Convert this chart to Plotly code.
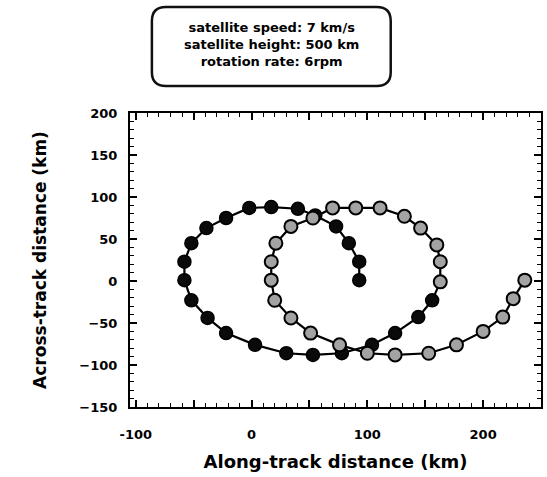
import plotly.graph_objects as go

# ---- data (km) ----
first_x = [93, 93, 84, 73, 55, 40, 17, -2, -22, -39, -52, -58, -58, -52, -38, -22, 3, 30, 53, 78, 104, 124, 144, 156]
first_y = [1, 23, 45, 65, 78, 86, 88, 87, 75, 63, 45, 23, 1, -23, -44, -62, -76, -86, -88, -86, -76, -62, -43, -23]

second_x = [163, 163, 160, 146, 132, 111, 90, 70, 53, 34, 21, 17, 17, 20, 34, 51, 76, 100, 124, 153, 177, 200, 217, 226, 236]
second_y = [-1, 23, 43, 63, 77, 87, 87, 87, 75, 65, 45, 23, 1, -23, -44, -62, -76, -86, -88, -86, -76, -60, -43, -21, 1]

info_lines = ["satellite speed: 7 km/s", "satellite height: 500 km", "rotation rate: 6rpm"]
x_title = "Along-track distance (km)"
y_title = "Across-track distance (km)"
x_tickvals = [-100, -50, 0, 50, 100, 150, 200, 250]
x_ticktext = ["-100", "", "0", "", "100", "", "200", ""]
y_tickvals = [-150, -100, -50, 0, 50, 100, 150, 200]

# ---- layout geometry ----
W, H = 547, 477
L, R, T, B = 130, 543, 113, 407
PW, PH = R - L, B - T

def px2paper(px, py):
    return (px - L) / PW, (B - py) / PH

FONT = "DejaVu Sans"

fig = go.Figure()

line_x = first_x + second_x
line_y = first_y + second_y
fig.add_trace(go.Scatter(x=line_x, y=line_y, mode="lines",
                         line=dict(color="black", width=2.2),
                         hoverinfo="skip", showlegend=False))
fig.add_trace(go.Scatter(x=first_x, y=first_y, mode="markers",
                         marker=dict(symbol="circle", size=13, color="#0a0a0a",
                                     line=dict(color="black", width=1.5)),
                         showlegend=False))
fig.add_trace(go.Scatter(x=second_x, y=second_y, mode="markers",
                         marker=dict(symbol="circle", size=13, color="#a3a3a3",
                                     line=dict(color="black", width=2)),
                         showlegend=False))

axis_common = dict(
    showgrid=False, zeroline=False, showline=True, linecolor="black", linewidth=2,
    mirror="allticks", ticks="inside", ticklen=7, tickwidth=1.6, tickcolor="black",
    tickfont=dict(family=FONT, size=13, color="black", weight="bold"),
    minor=dict(ticks="inside", ticklen=4, tickwidth=1.3, tickcolor="black", dtick=10, showgrid=False),
)

fig.update_xaxes(range=[-105, 250], tickmode="array", tickvals=x_tickvals, ticktext=x_ticktext,
                 ticklabelstandoff=14,
                 title=dict(text=x_title, standoff=15,
                            font=dict(family=FONT, size=18, color="black", weight="bold")),
                 **axis_common)
fig.update_yaxes(range=[-150, 200], tickmode="array", tickvals=y_tickvals,
                 ticklabelstandoff=8,
                 title=dict(text=y_title, standoff=28,
                            font=dict(family=FONT, size=17, color="black", weight="bold")),
                 **axis_common)

# rounded info box
bx0, bx1, by0, by1 = 152, 392, 7, 86
r = 14
def P(px, py):
    x, y = px2paper(px, py)
    return f"{x:.5f},{y:.5f}"
path = (f"M {P(bx0 + r, by0)} L {P(bx1 - r, by0)} Q {P(bx1, by0)} {P(bx1, by0 + r)} "
        f"L {P(bx1, by1 - r)} Q {P(bx1, by1)} {P(bx1 - r, by1)} "
        f"L {P(bx0 + r, by1)} Q {P(bx0, by1)} {P(bx0, by1 - r)} "
        f"L {P(bx0, by0 + r)} Q {P(bx0, by0)} {P(bx0 + r, by0)} Z")
fig.add_shape(type="path", path=path, xref="paper", yref="paper",
              line=dict(color="#111", width=2.5), fillcolor="white", layer="above")

ax, ay = px2paper(272, 45)
fig.add_annotation(x=ax, y=ay, xref="paper", yref="paper", showarrow=False,
                   xanchor="center", yanchor="middle",
                   text="<br>".join(info_lines), align="center",
                   font=dict(family=FONT, size=13, color="black", weight="bold"))

fig.update_layout(width=W, height=H, margin=dict(l=L, r=W - R, t=T, b=H - B),
                  paper_bgcolor="white", plot_bgcolor="white", showlegend=False)

fig.write_html("out.html")
